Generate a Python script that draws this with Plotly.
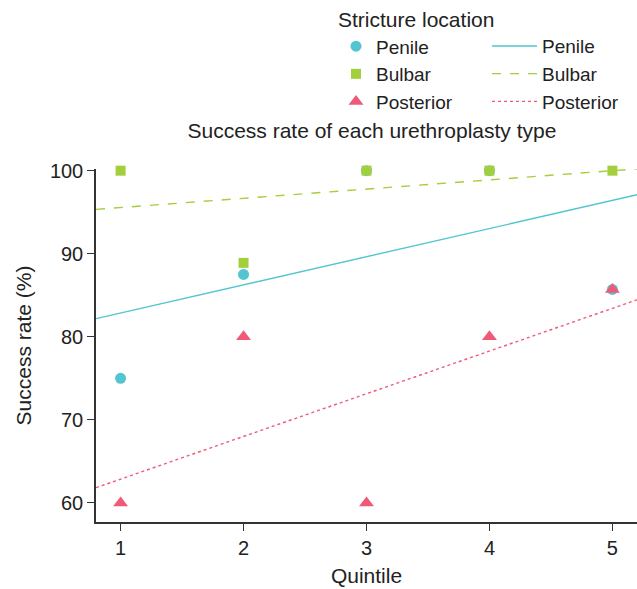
import numpy as np
import plotly.graph_objects as go

quintiles = [1, 2, 3, 4, 5]
penile = [75.0, 87.5, 100.0, 100.0, 85.7]
bulbar = [100.0, 88.9, 100.0, 100.0, 100.0]
posterior = [60.0, 80.0, 60.0, 80.0, 85.7]
x_tick_labels = ["1", "2", "3", "4", "5"]
y_ticks = [60, 70, 80, 90, 100]

series = [
    ("Penile", penile, "#52C5D0", "circle", 11, "solid"),
    ("Bulbar", bulbar, "#A3CF3C", "square", 10, "dash"),
    ("Posterior", posterior, "#EE5A78", "triangle-up", 13, "dot"),
]

FONT = "Liberation Sans, Arial, sans-serif"
TXT = "#222222"
FS = 20
LFS = 19
AFS = 21
x_range = [0.8, 5.2]

fig = go.Figure()
for name, vals, col, sym, size, dash in series:
    fig.add_trace(go.Scatter(
        x=quintiles, y=vals, mode="markers", name=name,
        marker=dict(color=col, symbol=sym, size=size, line=dict(width=0)),
        legend="legend", cliponaxis=False,
    ))
for name, vals, col, sym, size, dash in series:
    slope, intercept = np.polyfit(quintiles, vals, 1)
    xs = np.array(x_range)
    fig.add_trace(go.Scatter(
        x=xs, y=intercept + slope * xs, mode="lines", name=name,
        line=dict(color=col, width=1.4, dash=dash),
        legend="legend2",
    ))

fig.update_layout(
    width=637, height=589,
    margin=dict(l=96, r=0, t=169, b=67, autoexpand=False),
    plot_bgcolor="white", paper_bgcolor="white",
    font=dict(family=FONT, size=FS, color=TXT),
    title=dict(text="Success rate of each urethroplasty type",
               x=0.51, xref="paper", xanchor="center",
               y=1 - 131 / 589, yanchor="middle",
               font=dict(size=21, color=TXT)),
    xaxis=dict(range=x_range, tickvals=quintiles, ticktext=x_tick_labels,
               showgrid=False, zeroline=False, showline=True,
               linecolor="#333333", linewidth=1.5, ticks="outside",
               ticklen=7, tickcolor="#333333", tickwidth=1.2,
               title=dict(text="Quintile", standoff=11, font=dict(size=AFS)),
               tickfont=dict(size=FS)),
    yaxis=dict(range=[57.7, 100.2], tickvals=y_ticks,
               showgrid=False, zeroline=False, showline=True,
               linecolor="#333333", linewidth=1.5, ticks="outside",
               ticklen=7, tickcolor="#333333", tickwidth=1.2,
               title=dict(text="Success rate (%)", standoff=13, font=dict(size=AFS)),
               tickfont=dict(size=FS)),
    legend=dict(x=(336 - 96) / 541, y=1.01, xref="paper", yref="container",
                xanchor="left", yanchor="top",
                title=dict(text="Stricture location", font=dict(size=21)),
                font=dict(size=LFS), tracegroupgap=0, itemwidth=30,
                bgcolor="rgba(0,0,0,0)"),
    legend2=dict(x=(487 - 96) / 541, y=0.954, xref="paper", yref="container",
                 xanchor="left", yanchor="top",
                 font=dict(size=LFS), tracegroupgap=0, itemwidth=45,
                 bgcolor="rgba(0,0,0,0)"),
)

fig.write_html("out.html",
               config={"displayModeBar": False},
               post_script="document.body.style.margin='0';"
                           "document.body.style.overflow='hidden';")
